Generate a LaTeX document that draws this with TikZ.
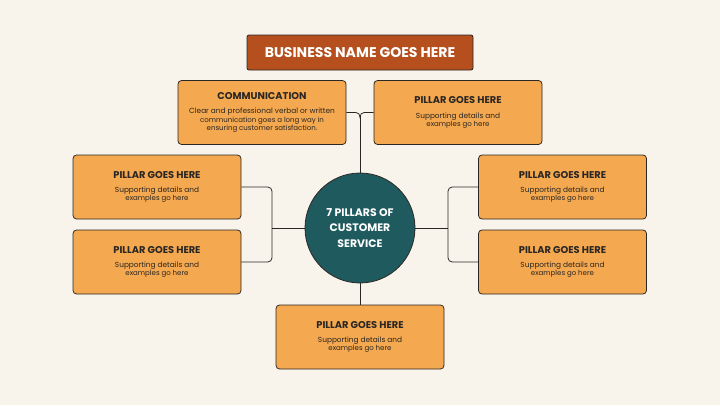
\documentclass[tikz,border=0pt]{standalone}
\usepackage{fontspec}
\setmainfont{Poppins}
\definecolor{cream}{HTML}{F8F4EC}
\definecolor{pillar}{HTML}{F4A84F}
\definecolor{rust}{HTML}{B5501E}
\definecolor{teal}{HTML}{1F5A5E}
\definecolor{ink}{HTML}{2A2623}
\tikzset{
  pillarbox/.style={draw=ink, line width=1.1pt, fill=pillar, rounded corners=5pt,
    minimum width=84mm, minimum height=32mm, align=center, text=ink},
  link/.style={draw=ink, line width=1.1pt, rounded corners=6pt},
}
\newcommand{\headfont}{\fontsize{14}{16}\selectfont\bfseries}
\newcommand{\bodyfont}{\fontsize{10.5}{14}\selectfont\mdseries}
\begin{document}
\begin{tikzpicture}[x=0.5mm, y=-0.5mm]
  \fill[cream] (0,0) rectangle (720,405);
  \useasboundingbox (0,0) rectangle (720,405);
  % title
  \node[fill=rust, draw=ink, line width=1.1pt, rounded corners=3pt, minimum width=113mm,
    minimum height=17.5mm, text=white, font=\fontsize{20}{22}\selectfont\bfseries]
    (title) at (360,52.5) {BUSINESS NAME GOES HERE};
  % hub
  \node[circle, fill=teal, draw=ink, line width=1.1pt, minimum size=55mm, text=white, align=center,
    font=\fontsize{15.5}{22}\selectfont\bfseries] (hub) at (360,228) {7 PILLARS OF\\CUSTOMER\\SERVICE};
  % pillars
  \node[pillarbox] (comm) at (262,112.5) {\headfont COMMUNICATION\\[3mm]\bodyfont Clear and professional verbal or written\\communication goes a long way in\\ensuring customer satisfaction.};
  \node[pillarbox] (topR) at (458,112.5) {\headfont PILLAR GOES HERE\\[3mm]\bodyfont Supporting details and\\examples go here};
  \node[pillarbox] (leftA) at (157,187) {\headfont PILLAR GOES HERE\\[3mm]\bodyfont Supporting details and\\examples go here};
  \node[pillarbox] (leftB) at (157,262) {\headfont PILLAR GOES HERE\\[3mm]\bodyfont Supporting details and\\examples go here};
  \node[pillarbox] (rightA) at (562.5,187) {\headfont PILLAR GOES HERE\\[3mm]\bodyfont Supporting details and\\examples go here};
  \node[pillarbox] (rightB) at (562.5,262) {\headfont PILLAR GOES HERE\\[3mm]\bodyfont Supporting details and\\examples go here};
  \node[pillarbox] (bottom) at (360,337) {\headfont PILLAR GOES HERE\\[3mm]\bodyfont Supporting details and\\examples go here};
  % junctions
  \coordinate (jTop) at (360,115);
  \coordinate (jLeft) at (272,228);
  \coordinate (jRight) at (448,228);
  % links
  \draw[link] (hub.north) -- (jTop);
  \draw[link] (comm.east) -| (jTop);
  \draw[link] (topR.west) -| (jTop);
  \draw[link] (hub.west) -- (jLeft);
  \draw[link] (leftA.east) -| (jLeft);
  \draw[link] (leftB.east) -| (jLeft);
  \draw[link] (hub.east) -- (jRight);
  \draw[link] (rightA.west) -| (jRight);
  \draw[link] (rightB.west) -| (jRight);
  \draw[link] (hub.south) -- (bottom.north);
\end{tikzpicture}
\end{document}
